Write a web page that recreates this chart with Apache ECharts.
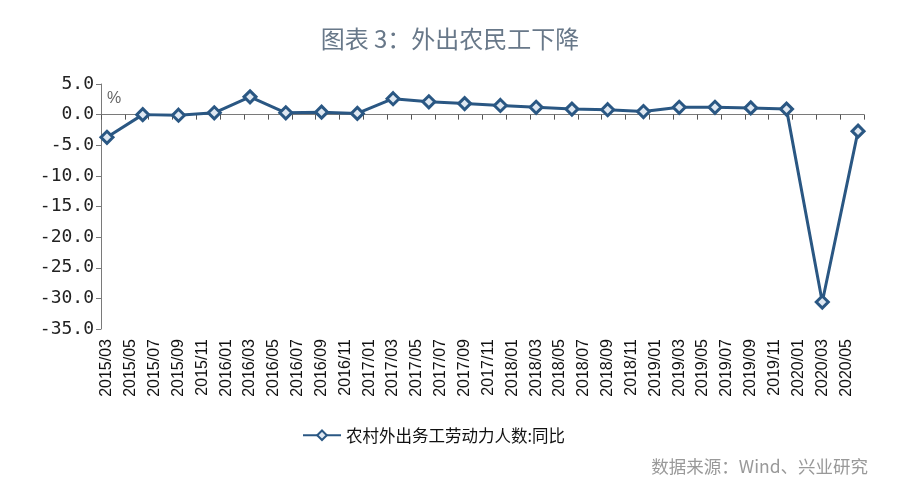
<!DOCTYPE html>
<html>
<head>
<meta charset="utf-8">
<script src="https://cdn.jsdelivr.net/npm/echarts@6/dist/echarts.min.js"></script>
<style>html,body{margin:0;padding:0;background:#fff;}#c{width:900px;height:495px;}</style>
</head>
<body>
<div id="c"></div>
<script>
// Monthly category axis (labels every 2 months)
var months = [
  '2015/03','2015/04','2015/05','2015/06','2015/07','2015/08','2015/09','2015/10','2015/11','2015/12',
  '2016/01','2016/02','2016/03','2016/04','2016/05','2016/06','2016/07','2016/08','2016/09','2016/10','2016/11','2016/12',
  '2017/01','2017/02','2017/03','2017/04','2017/05','2017/06','2017/07','2017/08','2017/09','2017/10','2017/11','2017/12',
  '2018/01','2018/02','2018/03','2018/04','2018/05','2018/06','2018/07','2018/08','2018/09','2018/10','2018/11','2018/12',
  '2019/01','2019/02','2019/03','2019/04','2019/05','2019/06','2019/07','2019/08','2019/09','2019/10','2019/11','2019/12',
  '2020/01','2020/02','2020/03','2020/04','2020/05','2020/06'
];
// Quarterly observations
var quarterDates = [
  '2015/03','2015/06','2015/09','2015/12',
  '2016/03','2016/06','2016/09','2016/12',
  '2017/03','2017/06','2017/09','2017/12',
  '2018/03','2018/06','2018/09','2018/12',
  '2019/03','2019/06','2019/09','2019/12',
  '2020/03','2020/06'
];
var yoyValues = [
  -3.7, 0.0, -0.1, 0.3,
  2.9, 0.3, 0.4, 0.2,
  2.6, 2.1, 1.8, 1.5,
  1.2, 0.9, 0.8, 0.5,
  1.2, 1.2, 1.1, 0.9,
  -30.6, -2.7
];
var seriesName = '农村外出务工劳动力人数:同比';
var titleText = '图表 3：外出农民工下降';
var sourceText = '数据来源：Wind、兴业研究';
var yMin = -35, yMax = 5, yInterval = 5;

var lineColor = '#2a5783';
var seriesData = quarterDates.map(function (d, i) { return [d, yoyValues[i]]; });

var chart = echarts.init(document.getElementById('c'), null, {renderer: 'canvas'});
chart.setOption({
  backgroundColor: '#ffffff',
  animation: false,
  title: {
    text: titleText,
    left: 'center',
    top: 22,
    textStyle: {fontFamily: 'Noto Sans CJK SC', fontSize: 24, fontWeight: 'normal', color: '#687889'}
  },
  grid: {left: 101, right: 36, top: 84, bottom: 166, containLabel: false},
  legend: {
    left: 297,
    top: 422,
    itemWidth: 38,
    itemHeight: 12,
    itemGap: 5,
    data: [seriesName],
    textStyle: {fontFamily: 'Noto Sans CJK SC', fontSize: 16.5, color: '#111'}
  },
  xAxis: [
    {
      type: 'category',
      data: months,
      boundaryGap: true,
      axisLine: {show: true, onZero: true, lineStyle: {color: '#7a7a7a', width: 1}},
      axisTick: {show: true, interval: 1, length: 5, inside: false, lineStyle: {color: '#555'}},
      axisLabel: {show: false},
      splitLine: {show: false}
    },
    {
      type: 'category',
      data: months,
      position: 'bottom',
      boundaryGap: true,
      axisLine: {show: false, onZero: false},
      axisTick: {show: false},
      axisLabel: {
        show: true, interval: 1, rotate: 90, margin: 10,
        fontFamily: 'Liberation Sans', fontSize: 16, color: '#111'
      },
      splitLine: {show: false}
    }
  ],
  yAxis: {
    type: 'value',
    min: yMin, max: yMax, interval: yInterval,
    axisLine: {show: true, lineStyle: {color: '#7a7a7a', width: 1}},
    axisTick: {show: true, length: 5, inside: false, lineStyle: {color: '#7a7a7a'}},
    axisLabel: {
      margin: 7,
      fontFamily: 'DejaVu Sans Mono', fontSize: 18, color: '#222',
      formatter: function (v) { return v.toFixed(1); }
    },
    splitLine: {show: false}
  },
  graphic: [
    {
      type: 'text', left: 107, top: 91,
      style: {text: '%', fontFamily: 'Liberation Sans', fontSize: 16, fill: '#666'}
    },
    {
      type: 'text', right: 32, top: 458,
      style: {text: sourceText, fontFamily: 'Noto Sans CJK SC', fontSize: 17.5, fill: '#999'}
    }
  ],
  series: [{
    name: seriesName,
    type: 'line',
    xAxisIndex: 0,
    data: seriesData,
    symbol: 'diamond',
    symbolSize: 12,
    showAllSymbol: true,
    lineStyle: {color: lineColor, width: 3},
    itemStyle: {color: '#dfe8f2', borderColor: lineColor, borderWidth: 3}
  }]
});
</script>
</body>
</html>
